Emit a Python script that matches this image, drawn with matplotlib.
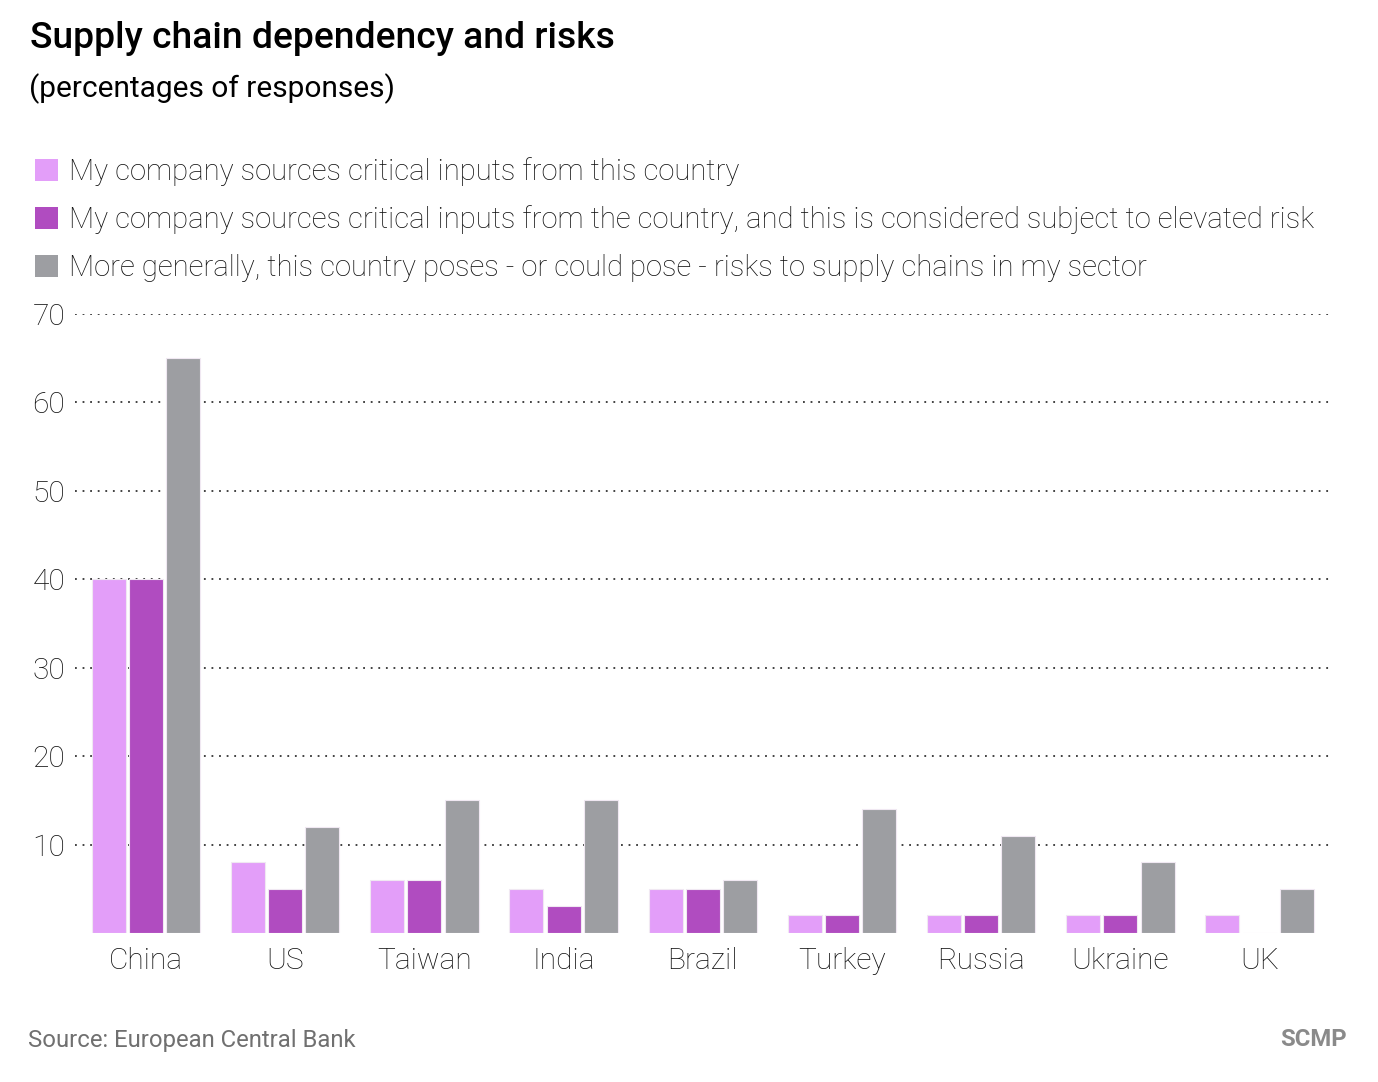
import matplotlib
matplotlib.use("Agg")
import matplotlib.pyplot as plt
from matplotlib.patches import Rectangle
import numpy as np

categories = ["China", "US", "Taiwan", "India", "Brazil", "Turkey", "Russia", "Ukraine", "UK"]
series_names = [
    "My company sources critical inputs from this country",
    "My company sources critical inputs from the country, and this is considered subject to elevated risk",
    "More generally, this country poses - or could pose - risks to supply chains in my sector",
]
sources = [40, 8, 6, 5, 5, 2, 2, 2, 2]
elevated = [40, 5, 6, 3, 5, 2, 2, 2, 0]
general = [65, 12, 15, 15, 6, 14, 11, 8, 5]
yticks = [10, 20, 30, 40, 50, 60, 70]
colors = ["#e39ef9", "#b04cc0", "#9d9ea2"]

plt.rcParams['font.family'] = ['Roboto', 'DejaVu Sans']

W, H = 1378, 1082
fig = plt.figure(figsize=(W / 100, H / 100), dpi=100)
ax = fig.add_axes([75 / W, 1 - 933 / H, (1332 - 75) / W, (933 - 314) / H])

x = np.arange(len(categories))
bw = 0.245
step = 0.267
for i, (vals, c) in enumerate(zip([sources, elevated, general], colors)):
    ax.bar(x + (i - 1) * step, vals, width=bw, color=c, edgecolor="#f0e8f2",
           linewidth=0.8, zorder=3)

ax.set_xlim(-0.51, 8.52)
ax.set_ylim(0, 70)
ax.set_yticks(yticks)
ax.set_yticklabels([str(v) for v in yticks], fontsize=21.5, fontweight='light', color="#111111")
ax.set_xticks(x)
ax.set_xticklabels(categories, fontsize=21.5, fontweight='light', color="#111111")
ax.tick_params(axis='both', length=0)
ax.tick_params(axis='y', pad=7)
ax.tick_params(axis='x', pad=10)
ax.grid(axis='y', linestyle=(0, (1, 3.2)), color="#333333", linewidth=1.3, zorder=0)
for s in ax.spines.values():
    s.set_visible(False)

fig.text(30 / W, 1 - 38 / H, "Supply chain dependency and risks", fontsize=26.8,
         fontweight='medium', va='center', ha='left', color="#000000")
fig.text(29 / W, 1 - 89 / H, "(percentages of responses)", fontsize=21.5,
         va='center', ha='left', color="#000000")

for k, (name, c) in enumerate(zip(series_names, colors)):
    yc = 170 + 48 * k
    fig.patches.append(Rectangle((35 / W, 1 - (yc + 11) / H), 23 / W, 22 / H,
                                 transform=fig.transFigure, facecolor=c,
                                 edgecolor='none'))
    fig.text(69 / W, 1 - (yc + 2) / H, name, fontsize=21.1, fontweight='light',
             va='center', ha='left', color="#111111")

fig.text(28 / W, 1 - 1040 / H, "Source: European Central Bank", fontsize=17.2,
         va='center', ha='left', color="#707070")
fig.text(1347 / W, 1 - 1040 / H, "SCMP", fontsize=17.2, fontweight='bold',
         va='center', ha='right', color="#8a8a8a")

fig.savefig("out.png", dpi=100, facecolor='white')
